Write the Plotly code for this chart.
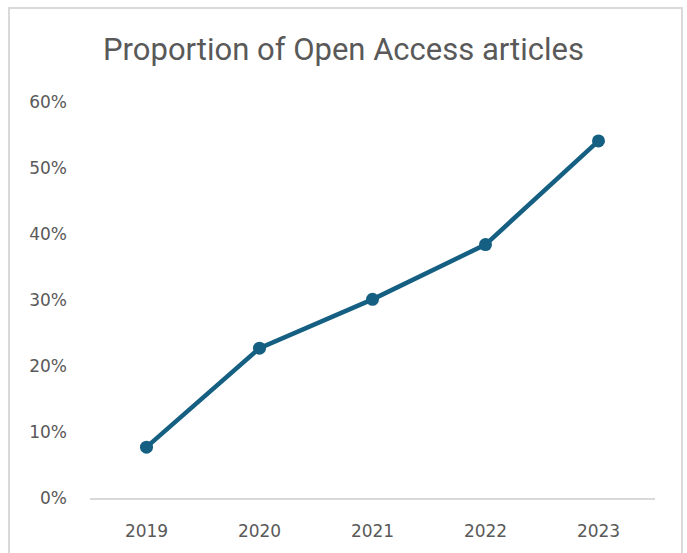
import plotly.graph_objects as go

years = ["2019", "2020", "2021", "2022", "2023"]
oa_share = [0.077, 0.227, 0.301, 0.384, 0.541]
y_ticks = [0, 0.1, 0.2, 0.3, 0.4, 0.5, 0.6]
y_tick_labels = ["0%", "10%", "20%", "30%", "40%", "50%", "60%"]

line_color = "#156082"
text_color = "#595959"
tick_font = dict(size=17, color=text_color, family="DejaVu Sans, sans-serif")

fig = go.Figure()
fig.add_trace(go.Scatter(
    x=years, y=oa_share, mode="lines+markers",
    line=dict(color=line_color, width=4.5),
    marker=dict(color=line_color, size=13),
    hoverinfo="skip", showlegend=False,
))

W, H = 687, 553
L, R, T, B = 90, 32, 102, 55
pw, ph = W - L - R, H - T - B

fig.update_layout(
    width=W, height=H,
    margin=dict(l=L, r=R, t=T, b=B, pad=0),
    paper_bgcolor="white", plot_bgcolor="white",
    font=dict(family="Roboto, Liberation Sans, sans-serif", color=text_color, size=15),
    title=dict(
        text="Proportion of Open Access articles",
        font=dict(size=31, color=text_color, family="Roboto, sans-serif"),
        x=0.5, xanchor="center", xref="container",
        y=1 - 49 / H, yanchor="middle", yref="container",
    ),
    xaxis=dict(
        type="category", range=[-0.5, 4.5],
        showgrid=False, zeroline=False,
        showline=True, linecolor="#d9d9d9", linewidth=2,
        ticks="", ticklabelstandoff=17,
        tickfont=tick_font,
        fixedrange=True,
    ),
    yaxis=dict(
        range=[0, 0.6], tickvals=y_ticks, ticktext=y_tick_labels,
        showgrid=False, zeroline=False, showline=False,
        ticks="", ticklabelstandoff=22,
        tickfont=tick_font,
        fixedrange=True,
    ),
)

# outer chart border
x0 = (9 - L) / pw
x1 = (682 - L) / pw
y1 = (H - B - 8) / ph
y0 = (H - B - 570) / ph
fig.add_shape(type="rect", xref="paper", yref="paper",
              x0=x0, x1=x1, y0=y0, y1=y1,
              line=dict(color="#d9d9d9", width=2), fillcolor="rgba(0,0,0,0)",
              layer="below")

fig.write_html("out.html", config={"displayModeBar": False})
